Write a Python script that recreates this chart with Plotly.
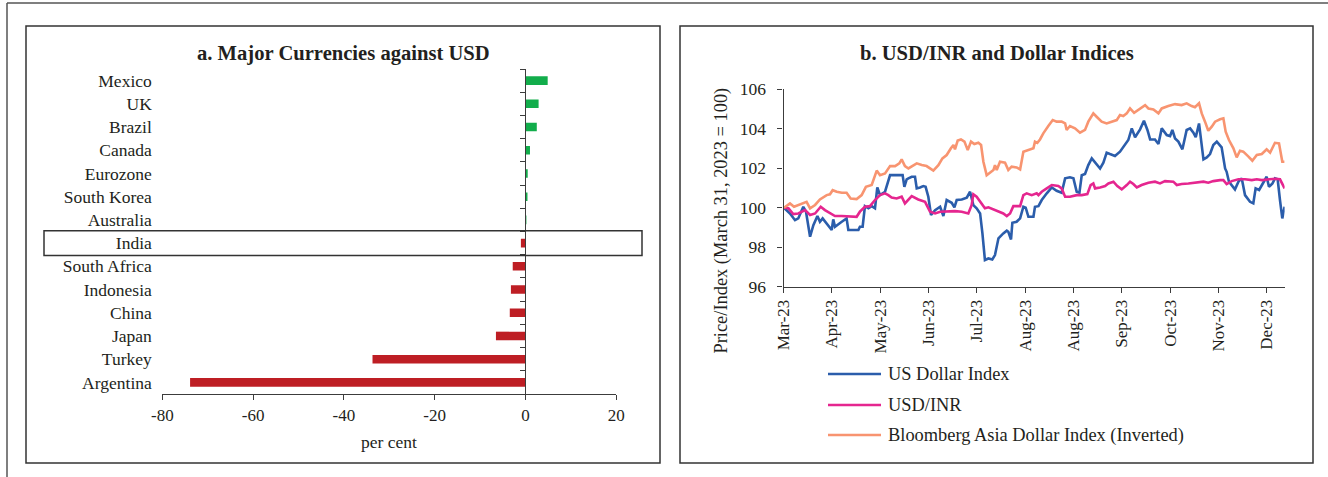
import pandas as pd
import plotly.graph_objects as go

# ---------------- data: panel a ----------------
countries = ["Mexico", "UK", "Brazil", "Canada", "Eurozone", "South Korea", "Australia",
             "India", "South Africa", "Indonesia", "China", "Japan", "Turkey", "Argentina"]
pct_change = [4.9, 2.9, 2.5, 1.0, 0.5, 0.45, 0.15, -1.0, -2.8, -3.2, -3.45, -6.5, -33.7, -73.9]
x_ticks_a = [-80, -60, -40, -20, 0, 20]

# ---------------- data: panel b (days since 31 March 2023) ----------------
base_date = "2023-03-31"
dxy_days = [0.2, 3.3, 5.9, 7.6, 10.2, 11.6, 13.7, 15.4, 17.5, 18.8,
            20.2, 22.3, 24.9, 25.7, 26.6, 30.1, 32.6, 33.5, 38.7, 39.5,
            40.9, 42.1, 43.9, 45.6, 47.3, 48.5, 49.9, 52.5, 55.1, 59.4,
            61.6, 62.5, 63.7, 64.6, 66.3, 68.0, 68.9, 70.6, 72.3, 73.5,
            74.9, 76.3, 78.4, 81.0, 82.7, 84.4, 87.0, 88.4, 89.6, 92.2,
            94.8, 96.5, 98.2, 99.9, 101.7, 102.9, 104.2, 106.0, 108.0, 109.4,
            111.2, 113.7, 115.5, 116.3, 117.7, 118.4, 120.6, 122.4, 124.1, 125.3,
            126.7, 129.3, 130.1, 131.9, 133.6, 136.2, 138.8, 141.3, 143.9, 145.7,
            148.2, 150.0, 151.7, 153.1, 154.3, 156.0, 157.7, 159.5, 161.2, 163.8,
            165.5, 167.2, 168.9, 171.5, 174.1, 176.7, 178.4, 180.2, 181.9, 184.5,
            186.5, 188.3, 189.7, 192.2, 194.0, 195.7, 198.3, 200.0, 201.2, 202.6,
            204.3, 206.4, 208.6, 210.4, 212.1, 213.3, 215.0, 217.3, 219.0, 220.7,
            222.4, 224.2, 226.7, 228.5, 229.3, 230.5, 232.3, 233.6, 235.4, 237.1,
            238.8, 241.4, 243.1, 244.3, 246.1, 248.3, 250.0, 251.2, 253.0, 254.3,
            255.7, 256.9, 258.1, 259.3]
dxy_vals = [100.0, 99.71, 99.37, 99.46, 100.05, 99.8, 98.53, 99.12, 99.58, 99.29,
            99.46, 99.21, 98.87, 99.41, 99.04, 99.29, 99.46, 98.87, 98.87, 99.04,
            99.04, 100.08, 99.97, 100.08, 99.97, 101.03, 100.64, 100.81, 101.65, 101.65,
            101.65, 101.06, 101.44, 101.49, 101.57, 101.57, 100.98, 101.03, 101.10, 101.06,
            100.56, 99.63, 99.88, 100.05, 99.58, 100.39, 100.25, 100.02, 100.39, 100.42,
            100.51, 100.81, 100.13, 99.97, 99.71, 98.70, 97.35, 97.43, 97.38, 97.60,
            98.45, 98.70, 98.84, 98.78, 98.39, 99.24, 99.29, 99.46, 100.05, 100.0,
            99.54, 99.54, 100.05, 100.08, 100.39, 100.73, 101.03, 100.86, 100.76, 101.49,
            101.54, 101.49, 100.81, 100.76, 101.65, 101.71, 102.16, 102.50, 102.28, 101.99,
            102.28, 102.79, 102.72, 102.62, 102.84, 103.18, 103.43, 104.02, 103.57, 103.97,
            104.41, 103.94, 103.46, 103.46, 103.23, 104.02, 103.68, 103.63, 103.94, 103.51,
            103.35, 102.96, 103.94, 104.02, 103.80, 103.57, 104.27, 102.45, 102.55, 102.72,
            103.18, 103.35, 103.06, 101.99, 101.82, 101.32, 101.10, 100.93, 101.32, 101.49,
            100.64, 100.30, 100.22, 100.98, 100.90, 101.32, 101.57, 101.06, 101.23, 101.49,
            101.44, 100.39, 99.46, 100.05]

inr_days = [0.2, 2.5, 5.0, 7.6, 11.1, 13.7, 16.3, 19.2, 21.4, 24.0,
            26.6, 30.1, 34.4, 37.8, 39.5, 42.1, 44.7, 47.3, 49.9, 52.5,
            54.2, 55.9, 58.5, 61.1, 62.8,
            66.3, 69.7, 73.2, 75.8, 78.4, 81.0, 84.4, 88.7, 92.2, 95.6,
            97.3, 98.2, 99.9, 102.5, 104.2, 106.0, 108.6, 111.2, 113.7, 115.5,
            117.2, 118.9, 122.4, 124.1, 125.8, 128.4,
            131.0, 131.9, 133.6, 136.2, 138.8, 142.2, 143.9, 145.7, 148.2, 151.7,
            154.3, 157.2, 158.9, 160.3, 161.2, 163.8, 166.4, 168.1, 170.7, 172.7,
            175.0, 177.6, 179.3, 181.0, 182.8, 185.3, 188.8, 192.2,
            194.8, 197.4, 201.7, 203.5, 206.0, 209.5, 213.8, 217.3, 219.8, 222.4,
            225.9, 227.6, 229.3, 231.9, 235.4, 238.8, 242.3, 244.9, 247.5, 250.9,
            254.3, 256.9, 258.7, 259.3]
inr_vals = [100.0, 99.97, 99.68, 99.71, 99.88, 99.63, 99.71, 100.05, 99.88, 99.71,
            99.58, 99.58, 99.54, 99.54, 99.8, 100.05, 100.08, 100.39, 100.64, 100.73,
            100.64, 100.52, 100.47, 100.56, 100.22,
            100.59, 100.42, 100.30, 99.80, 99.71, 99.80, 99.83, 99.83, 99.80, 99.71,
            100.13, 100.68, 100.56, 100.22, 99.97, 100.02, 99.92, 99.83, 99.71, 99.58,
            99.71, 100.08, 100.08, 100.64, 100.73, 100.64,
            100.73, 100.64, 100.81, 100.98, 101.15, 101.10, 100.98, 100.56, 100.56, 100.64,
            100.64, 100.69, 101.15, 101.23, 100.98, 101.03, 101.10, 101.23, 101.32, 101.10,
            100.93, 101.15, 101.32, 101.20, 101.03, 101.15, 101.27, 101.32,
            101.23, 101.35, 101.32, 101.15, 101.20, 101.23, 101.28, 101.32, 101.27, 101.35,
            101.40, 101.40, 101.20, 101.35, 101.44, 101.44, 101.40, 101.44, 101.40, 101.44,
            101.47, 101.44, 101.10, 100.98]

adxy_days = [0.2, 3.3, 5.4, 8.5, 11.9, 13.7, 16.3, 18.8, 20.2, 22.3,
             24.0, 25.4, 27.5, 30.1, 32.6, 34.7, 37.8, 40.4, 42.6, 45.6,
             48.2, 49.9, 52.5, 55.1, 57.7, 59.9, 61.1,
             62.8, 64.6, 66.3, 68.9, 71.5, 74.0, 77.5, 80.1, 82.2, 84.4,
             86.6, 87.9, 88.7, 90.1, 91.8, 93.6, 95.3, 97.0, 98.7, 100.8,
             102.2, 103.4, 105.1, 106.8, 108.6, 109.4, 110.3, 112.0, 114.6, 116.3,
             118.0, 120.6, 122.4, 124.1, 126.7, 129.3,
             130.1, 131.3, 132.7, 134.4, 137.0, 139.3, 141.3, 143.9, 145.7, 146.5,
             148.2, 150.8, 153.4, 156.0, 157.7, 160.3, 162.0, 164.6, 167.2, 169.8,
             172.4, 174.1, 175.8, 177.6, 179.3, 181.4, 183.6, 185.3, 187.1, 188.8, 191.4,
             194.0, 195.7, 199.1, 202.6, 206.0, 208.6, 211.2, 212.9, 215.0, 216.4,
             218.1, 219.8, 221.6, 223.3, 225.9, 227.6, 228.8, 230.5, 232.8, 234.5,
             236.2, 237.9, 240.6, 242.6, 244.9, 247.5, 250.0, 251.8, 254.3, 256.4,
             258.1, 259.3]
adxy_vals = [100.0, 100.22, 100.05, 100.17, 100.30, 99.97, 100.14, 100.42, 100.52, 100.64,
             100.68, 100.89, 100.81, 100.76, 100.76, 100.47, 100.44, 100.64, 101.06, 101.15,
             101.88, 101.65, 101.74, 102.11, 102.11, 102.25, 102.45,
             102.11, 101.99, 102.11, 102.25, 102.16, 102.11, 101.88, 102.16, 102.50, 102.67,
             103.01, 103.18, 102.96, 103.40, 103.46, 103.35, 102.92, 103.35, 103.23, 103.29,
             103.18, 102.33, 101.65, 101.77, 101.91, 102.16, 101.91, 102.33, 102.28, 101.91,
             102.08, 102.04, 101.94, 102.84, 102.92, 103.01,
             103.35, 103.29, 103.46, 103.77, 104.14, 104.44, 104.36, 104.36, 104.27, 103.94,
             104.14, 104.02, 103.80, 103.94, 104.36, 104.78, 104.61, 104.36, 104.27, 104.36,
             104.44, 104.70, 104.65, 104.78, 105.03, 104.81, 104.95, 105.09, 105.20, 105.03, 104.98,
             104.78, 105.03, 105.15, 105.25, 105.20, 105.29, 105.15, 105.09, 105.29, 104.78,
             104.36, 103.90, 104.11, 104.36, 104.48, 104.53, 103.85, 103.43, 103.01, 102.55,
             102.89, 102.84, 102.59, 102.38, 102.67, 102.72, 102.96, 102.79, 103.29, 103.26,
             102.33, 102.33]

tick_dates_b = ["2023-03-31", "2023-04-25", "2023-05-20", "2023-06-14", "2023-07-09", "2023-08-03",
                "2023-08-28", "2023-09-22", "2023-10-17", "2023-11-11", "2023-12-06"]
tick_labels_b = ["Mar-23", "Apr-23", "May-23", "Jun-23", "Jul-23", "Aug-23",
                 "Aug-23", "Sep-23", "Oct-23", "Nov-23", "Dec-23"]
y_ticks_b = [96, 98, 100, 102, 104, 106]

series_names = ["US Dollar Index", "USD/INR", "Bloomberg Asia Dollar Index (Inverted)"]
series_colors = ["#2B5DAB", "#E5268F", "#F89470"]

# ---------------- figure ----------------
W, H = 1328, 477
FONT = "Liberation Serif"
TXT = "#231f20"
AX = "#3c3c3c"


def px(x):
    return x / W


def py(y):
    return 1 - y / H


def to_dates(days):
    return pd.Timestamp(base_date) + pd.to_timedelta(pd.Series(days), unit="D")


fig = go.Figure()

bar_colors = ["#12AD4B" if v > 0 else "#BE1E24" for v in pct_change]
fig.add_trace(go.Bar(x=pct_change, y=countries, orientation="h", marker=dict(color=bar_colors, line=dict(width=0)),
                     width=0.37, xaxis="x", yaxis="y", showlegend=False))

for name, col, d, v in zip(series_names, series_colors,
                           [dxy_days, inr_days, adxy_days], [dxy_vals, inr_vals, adxy_vals]):
    fig.add_trace(go.Scatter(x=to_dates(d), y=v, mode="lines", name=name,
                             line=dict(color=col, width=2.6), xaxis="x2", yaxis="y2", showlegend=False))

zero_pos = px(162.4 + 80 * (616.2 - 162.4) / 100)

fig.update_layout(
    width=W, height=H,
    margin=dict(l=0, r=0, t=0, b=0, pad=0, autoexpand=False),
    paper_bgcolor="white", plot_bgcolor="white",
    font=dict(family=FONT, size=17, color=TXT),
    showlegend=False,
    xaxis=dict(domain=[px(162.4), px(616.2)], range=[-80, 20], tickvals=x_ticks_a,
               ticktext=[str(v) for v in x_ticks_a],
               ticks="outside", ticklen=5, tickcolor=AX, showline=True, linecolor=AX, linewidth=1.3,
               showgrid=False, zeroline=False, anchor="y", automargin=False),
    yaxis=dict(domain=[py(394), py(69)], type="category", categoryorder="array", categoryarray=countries,
               range=[13.5, -0.5], anchor="free", position=zero_pos,
               showline=True, linecolor=AX, linewidth=1.3, ticks="outside", ticklen=5, tickcolor=AX,
               tickson="boundaries", showgrid=False, zeroline=False, ticklabelstandoff=370,
               tickfont=dict(size=17.5), automargin=False),
    xaxis2=dict(domain=[px(783.6), px(1284.6)], type="date",
                range=["2023-03-31", "2023-12-15 07:00"], tickvals=tick_dates_b, ticktext=tick_labels_b,
                tickangle=-90, ticks="outside", ticklen=5, tickcolor=AX, showline=True, linecolor=AX,
                linewidth=1.3, showgrid=False, zeroline=False, anchor="y2", automargin=False),
    yaxis2=dict(domain=[py(286.7), py(89.3)], range=[96, 106], tickvals=y_ticks_b,
                ticks="outside", ticklen=5, tickcolor=AX, showline=True, linecolor=AX, linewidth=1.3,
                showgrid=False, zeroline=False, anchor="x2", ticklabelstandoff=8,
                tickfont=dict(size=17.5), automargin=False),
)

shapes = []
# outer lines
shapes.append(dict(type="line", xref="paper", yref="paper", x0=px(7), x1=px(1328), y0=py(3), y1=py(3),
                   line=dict(color="#555555", width=1.5)))
shapes.append(dict(type="line", xref="paper", yref="paper", x0=px(7), x1=px(7), y0=py(3), y1=py(477),
                   line=dict(color="#555555", width=1.5)))
# panel frames
for x0, x1 in [(26, 660), (680, 1313)]:
    shapes.append(dict(type="rect", xref="paper", yref="paper", x0=px(x0), x1=px(x1), y0=py(463), y1=py(26),
                       line=dict(color="#333333", width=1.5)))
# India highlight
india_idx = countries.index("India")
shapes.append(dict(type="rect", xref="paper", yref="y", x0=px(44), x1=px(642),
                   y0=india_idx - 0.53, y1=india_idx + 0.53, line=dict(color="#333333", width=1.5)))
# legend samples
leg_y = [374, 405, 435]
for col, yy in zip(series_colors, leg_y):
    shapes.append(dict(type="line", xref="paper", yref="paper", x0=px(828), x1=px(881), y0=py(yy), y1=py(yy),
                       line=dict(color=col, width=2.6)))

annotations = [
    dict(text="<b>a. Major Currencies against USD</b>", x=px(343), y=py(53), xref="paper", yref="paper",
         showarrow=False, font=dict(size=20.6, family=FONT, color=TXT), xanchor="center", yanchor="middle"),
    dict(text="<b>b. USD/INR and Dollar Indices</b>", x=px(997), y=py(53), xref="paper", yref="paper",
         showarrow=False, font=dict(size=20.6, family=FONT, color=TXT), xanchor="center", yanchor="middle"),
    dict(text="per cent", x=px(389), y=py(442), xref="paper", yref="paper", showarrow=False,
         font=dict(size=17.5), xanchor="center", yanchor="middle"),
    dict(text="Price/Index (March 31, 2023 = 100)", x=px(720.5), y=py(221), xref="paper", yref="paper",
         showarrow=False, textangle=-90, font=dict(size=18.4), xanchor="center", yanchor="middle"),
]
for name, yy in zip(series_names, leg_y):
    annotations.append(dict(text=name, x=px(886), y=py(yy), xref="paper", yref="paper", showarrow=False,
                            font=dict(size=18.4), xanchor="left", yanchor="middle"))

fig.update_layout(shapes=shapes, annotations=annotations)
fig.write_html("out.html", config={"displayModeBar": False},
               post_script="document.body.style.margin='0';document.body.style.overflow='hidden';")
